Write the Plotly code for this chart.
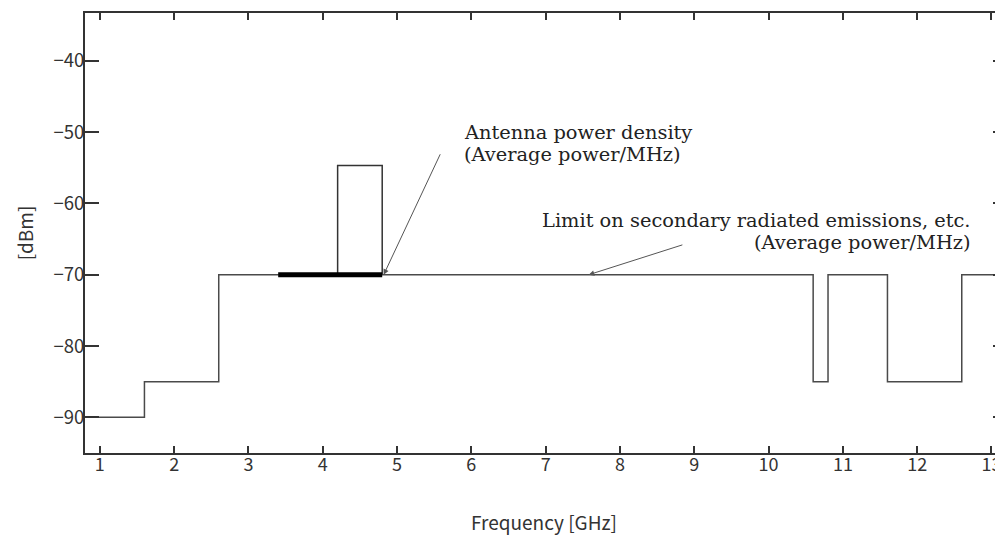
import plotly.graph_objects as go

# ---- data ----
step_edges_ghz = [0.0, 1.6, 2.6, 10.6, 10.8, 11.6, 12.6, 14.0]
step_levels_dbm = [-90, -85, -70, -85, -70, -85, -70]

peak_band_ghz = [4.2, 4.8]
peak_level_dbm = -54.7
base_level_dbm = -70

antenna_band_ghz = [3.4, 4.8]

x_ticks = list(range(1, 14))
y_ticks = [-90, -80, -70, -60, -50, -40]

label_antenna = ["Antenna power density", "(Average power/MHz)"]
label_limit = ["Limit on secondary radiated emissions, etc.", "(Average power/MHz)"]

# ---- build step line ----
step_x = list(step_edges_ghz)
step_y = list(step_levels_dbm) + [step_levels_dbm[-1]]

rect_x = [peak_band_ghz[0], peak_band_ghz[0], peak_band_ghz[1], peak_band_ghz[1]]
rect_y = [base_level_dbm, peak_level_dbm, peak_level_dbm, base_level_dbm]

SANS = "Noto Sans CJK JP, Liberation Sans, sans-serif"
SERIF = "DejaVu Serif, Liberation Serif, serif"
AXC = "#333333"

fig = go.Figure()
fig.add_trace(go.Scatter(x=step_x, y=step_y, mode="lines", line_shape="hv",
                         line=dict(color="#4a4a4a", width=1.5), hoverinfo="skip"))
fig.add_trace(go.Scatter(x=rect_x, y=rect_y, mode="lines",
                         line=dict(color="#333333", width=1.5), hoverinfo="skip"))
fig.add_trace(go.Scatter(x=antenna_band_ghz, y=[base_level_dbm, base_level_dbm], mode="lines",
                         line=dict(color="#000000", width=5), hoverinfo="skip"))
# invisible trace to carry the right-side tick axis
fig.add_trace(go.Scatter(x=step_x, y=step_y, mode="lines", yaxis="y2",
                         line=dict(color="rgba(0,0,0,0)", width=0), hoverinfo="skip"))

y_range = [-95, -33.3]
x_range = [0.8, 13.155]

fig.update_layout(
    width=995, height=533,
    margin=dict(l=77, r=0, t=5, b=88),
    paper_bgcolor="white", plot_bgcolor="white",
    showlegend=False,
    xaxis=dict(range=x_range, tickvals=x_ticks, ticks="inside", ticklen=7, tickwidth=2,
               tickcolor=AXC, showline=True, linecolor=AXC, linewidth=2, mirror="ticks",
               showgrid=False, zeroline=False, automargin=False, ticklabelstandoff=-6,
               tickfont=dict(family=SANS, size=18, color=AXC),
               title=dict(text="Frequency [GHz]", font=dict(family=SANS, size=19, color=AXC), standoff=42)),
    yaxis=dict(range=y_range, tickvals=y_ticks, ticks="inside", ticklen=14, tickwidth=2,
               tickcolor=AXC, showline=True, linecolor=AXC, linewidth=2, mirror=False,
               showgrid=False, zeroline=False, automargin=False, ticklabelstandoff=-5,
               tickfont=dict(family=SANS, size=18.5, color=AXC),
               title=dict(text="[dBm]", font=dict(family=SANS, size=19, color=AXC), standoff=15)),
    yaxis2=dict(range=y_range, tickvals=y_ticks, ticks="inside", ticklen=10, tickwidth=2,
                tickcolor=AXC, overlaying="y", side="right", showline=False,
                showticklabels=False, showgrid=False, zeroline=False, automargin=False),
)

# arrows
fig.add_annotation(x=4.82, y=base_level_dbm, ax=5.59, ay=-52.9, xref="x", yref="y",
                   axref="x", ayref="y", text="", showarrow=True, arrowhead=2,
                   arrowsize=1.1, arrowwidth=1, arrowcolor="#555555", standoff=0)
fig.add_annotation(x=7.58, y=base_level_dbm, ax=8.86, ay=-65.75, xref="x", yref="y",
                   axref="x", ayref="y", text="", showarrow=True, arrowhead=2,
                   arrowsize=1.1, arrowwidth=1, arrowcolor="#555555", standoff=0)

# labels
tf = dict(family=SERIF, size=19.4, color="#222222")
fig.add_annotation(x=5.868, y=-50.07, xref="x", yref="y", text=label_antenna[0],
                   showarrow=False, xanchor="left", yanchor="middle", font=tf)
fig.add_annotation(x=5.868, y=-53.15, xref="x", yref="y", text=label_antenna[1],
                   showarrow=False, xanchor="left", yanchor="middle", font=tf)
fig.add_annotation(x=12.75, y=-62.4, xref="x", yref="y", text=label_limit[0],
                   showarrow=False, xanchor="right", yanchor="middle", font=tf)
fig.add_annotation(x=12.75, y=-65.5, xref="x", yref="y", text=label_limit[1],
                   showarrow=False, xanchor="right", yanchor="middle", font=tf)

fig.write_html("out.html")
